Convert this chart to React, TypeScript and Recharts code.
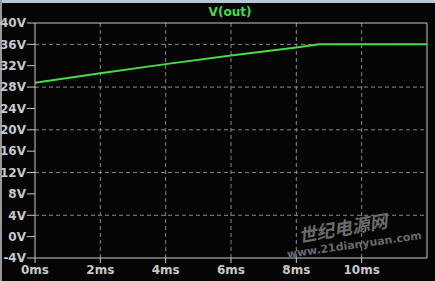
import { CartesianGrid, Line, LineChart, ReferenceLine, XAxis, YAxis } from "recharts";

const timeMs = [0, 2, 4, 6, 8, 8.7, 10, 12];
const vout = [28.8, 30.6, 32.3, 33.9, 35.4, 36, 36, 36];
const xTicks = [0, 2, 4, 6, 8, 10];
const yTicks = [-4, 0, 4, 8, 12, 16, 20, 24, 28, 32, 36, 40];

const data = timeMs.map((t, i) => ({ t, v: vout[i] }));

const gray = "#c8c8c8";
const font = "'DejaVu Sans', sans-serif";

export default function App() {
  return (
    <div style={{ position: "absolute", left: 0, top: 0, width: 435, height: 281, background: "#050505", overflow: "hidden" }}>
      <div style={{ position: "absolute", left: 0, top: 0, width: 435, height: 3, background: "#b9c6d6" }} />
      <div style={{ position: "absolute", left: 0, top: 0, width: 2, height: 281, background: "#9a9a9a" }} />
      <div
        style={{
          position: "absolute",
          left: 200,
          top: 5,
          width: 60,
          textAlign: "center",
          color: "#44dd44",
          fontFamily: font,
          fontWeight: "bold",
          fontSize: 12,
        }}
      >
        V(out)
      </div>
      <LineChart width={435} height={281} data={data} margin={{ top: 23, right: 8, bottom: 0, left: 0 }}>
        <CartesianGrid stroke="#8a8a8a" strokeDasharray="4 3" verticalValues={[2, 4, 6, 8, 10]} horizontalValues={[0, 4, 8, 12, 16, 20, 24, 28, 32, 36]} />
        <XAxis
          dataKey="t"
          type="number"
          domain={[0, 12]}
          ticks={xTicks}
          tickFormatter={(v) => `${v}ms`}
          stroke={gray}
          tickSize={5}
          height={23}
          tick={{ fill: gray, fontFamily: font, fontWeight: "bold", fontSize: 12 }}
        />
        <YAxis
          type="number"
          domain={[-4, 40]}
          ticks={yTicks}
          tickFormatter={(v) => `${v}V`}
          stroke={gray}
          width={35}
          tickSize={8}
          tickMargin={1}
          tick={{ fill: gray, fontFamily: font, fontWeight: "bold", fontSize: 12 }}
        />
        <ReferenceLine y={40} stroke={gray} />
        <ReferenceLine x={12} stroke={gray} />
        <Line type="linear" dataKey="v" stroke="#44dd44" strokeWidth={2} dot={false} isAnimationActive={false} />
      </LineChart>
      <div
        style={{
          position: "absolute",
          left: 296,
          top: 222,
          color: "#6a6a6a",
          fontFamily: "'Noto Sans CJK SC', sans-serif",
          fontWeight: "bold",
          fontStyle: "italic",
          fontSize: 18,
          transform: "rotate(-10deg)",
          transformOrigin: "left top",
        }}
      >
        世纪电源网
      </div>
      <div
        style={{
          position: "absolute",
          left: 286,
          top: 248,
          color: "#6a6a6a",
          fontFamily: font,
          fontWeight: "bold",
          fontSize: 11,
          whiteSpace: "nowrap",
          transform: "rotate(-8deg)",
          transformOrigin: "left top",
        }}
      >
        www.21dianyuan.com
      </div>
    </div>
  );
}
